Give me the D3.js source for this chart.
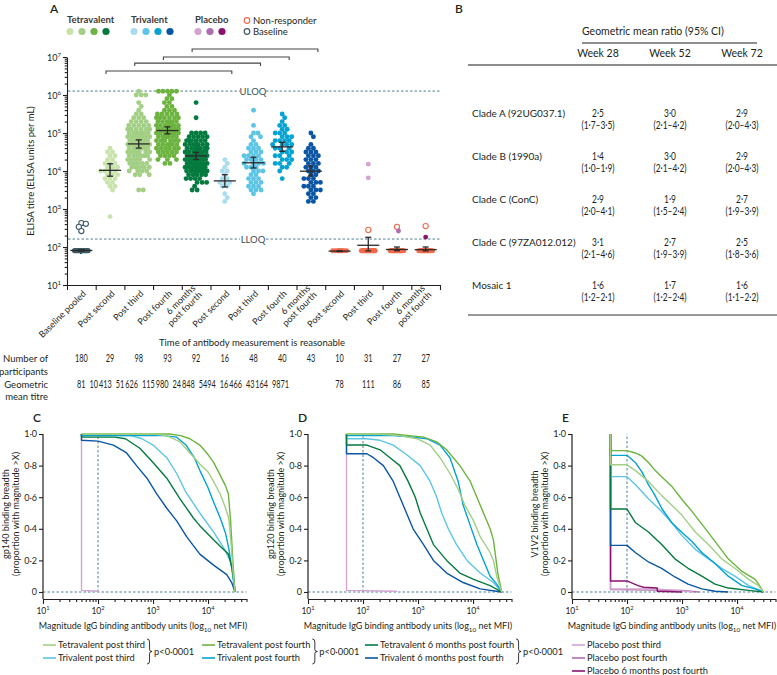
<!DOCTYPE html>
<html>
<head>
<meta charset="utf-8">
<script src="https://cdn.jsdelivr.net/npm/d3@7"></script>
<style>
html,body{margin:0;padding:0;background:#fff;}
svg{display:block;}
text{font-family:Lato,"Open Sans","DejaVu Sans",sans-serif;fill:#231f20;}
</style>
</head>
<body>
<svg id="chart" width="777" height="675" viewBox="0 0 777 675"></svg>
<script>
// ======================= DATA =======================
// Panel A categories
const categoryKeys = ["base","t2","t3","t4","t6","v2","v3","v4","v6","p2","p3","p4","p6"];
const categoryLabels = [["Baseline pooled"],["Post second"],["Post third"],["Post fourth"],["6 months","post fourth"],
  ["Post second"],["Post third"],["Post fourth"],["6 months","post fourth"],
  ["Post second"],["Post third"],["Post fourth"],["6 months","post fourth"]];
const participants = [180,29,98,93,92,16,48,40,43,10,31,27,27];
const geoMeanTitre = [81,10413,51626,115980,24848,5494,16466,43164,9871,78,111,86,85];
const ciLower = [78,7300,40000,95000,20000,3800,12000,33000,7400,76,79,80,79];
const ciUpper = [84,15500,66000,145000,31000,8000,23000,57000,13500,80,180,100,100];
// non-responders sitting at the assay floor
const floorCounts = [176,0,0,0,0,0,0,0,0,10,28,25,25];
const floorLog10 = 1.9;
// open circles (baseline / non-responder) log10 titre
const openCircleLog10 = [[2.61,2.53,2.63,2.42],[],[],[],[],[],[],[],[],[],[2.45],[2.53],[2.55]];
// responders: [log10 titre, number of participants]
const tetraPostSecond = [[4.6,1],[4.5,2],[4.4,2],[4.3,2],[4.2,3],[4.1,3],[4.0,4],[3.9,3],[3.8,3],[3.7,2],[3.6,2],[3.5,1],[2.8,1]];
const tetraPostThird = [[6.1,1],[6.0,3],[5.8,1],[5.7,1],[5.6,1],[5.5,2],[5.4,3],[5.3,4],[5.2,5],[5.1,6],[5.0,7],[4.9,7],[4.8,7],[4.7,7],[4.6,7],[4.5,6],[4.4,6],[4.3,5],[4.2,5],[4.1,5],[4.0,4],[3.9,3],[3.5,2]];
const tetraPostFourth = [[6.1,5],[6.0,1],[5.9,2],[5.8,2],[5.7,2],[5.6,3],[5.5,5],[5.4,6],[5.3,6],[5.2,7],[5.1,8],[5.0,8],[4.9,6],[4.8,6],[4.7,6],[4.6,6],[4.5,5],[4.4,4],[4.3,3],[4.2,2]];
const tetra6Months = [[5.8,1],[5.4,1],[5.0,4],[4.9,5],[4.8,6],[4.7,7],[4.6,7],[4.5,8],[4.4,8],[4.3,8],[4.2,8],[4.1,7],[4.0,7],[3.9,5],[3.8,4],[3.7,3],[3.6,1],[3.5,2]];
const triPostSecond = [[4.3,1],[4.2,1],[4.1,1],[4.0,2],[3.9,1],[3.8,2],[3.7,3],[3.6,2],[3.4,1],[3.3,1],[3.2,1]];
const triPostThird = [[5.6,1],[5.2,1],[5.0,2],[4.9,2],[4.8,1],[4.7,2],[4.6,3],[4.5,3],[4.4,4],[4.3,4],[4.2,4],[4.1,3],[4.0,3],[3.9,2],[3.8,3],[3.7,3],[3.6,3],[3.5,3],[3.4,1]];
const triPostFourth = [[5.5,1],[5.4,1],[5.3,1],[5.2,2],[5.1,2],[5.0,3],[4.9,3],[4.8,4],[4.7,4],[4.6,3],[4.5,3],[4.4,3],[4.3,3],[4.2,3],[4.1,2],[4.0,1],[3.8,1]];
const tri6Months = [[5.0,1],[4.9,1],[4.7,1],[4.6,2],[4.5,3],[4.4,3],[4.3,3],[4.2,3],[4.1,3],[4.0,3],[3.9,2],[3.8,3],[3.7,3],[3.6,3],[3.5,3],[3.4,2],[3.3,2],[3.2,2]];
const placeboPostThird = [[4.18,1],[3.82,1]];
const placeboPostFourth = [[2.42,1]];
const placebo6Months = [[2.26,1]];
const responderBins = [[],tetraPostSecond,tetraPostThird,tetraPostFourth,tetra6Months,
  triPostSecond,triPostThird,triPostFourth,tri6Months,[],placeboPostThird,placeboPostFourth,placebo6Months];
const uloq = 1.27e6, lloq = 162;
const bracketPairs = [[1,5],[2,6],[3,7],[4,8]];
const bracketLog10 = [6.63,6.84,7.0,7.21];

// Panel B table
const cladeRows = ["Clade A (92UG037.1)","Clade B (1990a)","Clade C (ConC)","Clade C (97ZA012.012)","Mosaic 1"];
const weekCols = ["Week 28","Week 52","Week 72"];
const gmrWeek28 = [2.5,1.4,2.9,3.1,1.6], lowWeek28 = [1.7,1.0,2.0,2.1,1.2], highWeek28 = [3.5,1.9,4.1,4.6,2.1];
const gmrWeek52 = [3.0,3.0,1.9,2.7,1.7], lowWeek52 = [2.1,2.1,1.5,1.9,1.2], highWeek52 = [4.2,4.2,2.4,3.9,2.4];
const gmrWeek72 = [2.9,2.9,2.7,2.5,1.6], lowWeek72 = [2.0,2.0,1.9,1.8,1.1], highWeek72 = [4.3,4.3,3.9,3.6,2.2];

// Panels C-E breadth curves: [log10 magnitude, proportion with magnitude > X]
const gp140TetraThird = [[1.7,1],[3.0,1],[3.25,0.99],[3.49,0.95],[3.67,0.88],[3.85,0.81],[4.0,0.76],[4.1,0.7],[4.22,0.62],[4.32,0.53],[4.38,0.46],[4.42,0.3],[4.46,0.1],[4.49,0]];
const gp140TetraFourth = [[1.7,1],[3.3,1],[3.5,0.99],[3.67,0.97],[3.85,0.93],[4.0,0.87],[4.1,0.82],[4.22,0.74],[4.32,0.67],[4.37,0.62],[4.41,0.45],[4.45,0.2],[4.49,0]];
const gp140TriThird = [[1.7,1],[1.7,0.99],[2.6,0.99],[2.8,0.97],[3.0,0.93],[3.25,0.85],[3.43,0.75],[3.6,0.63],[3.85,0.5],[4.1,0.38],[4.3,0.27],[4.4,0.2],[4.46,0.12],[4.49,0]];
const gp140TriFourth = [[1.7,1],[1.7,0.99],[3.2,0.99],[3.43,0.98],[3.6,0.93],[3.75,0.85],[3.85,0.77],[4.0,0.66],[4.1,0.57],[4.22,0.47],[4.32,0.37],[4.38,0.27],[4.43,0.15],[4.47,0.05],[4.49,0]];
const gp140Tetra6m = [[1.7,1],[1.7,0.98],[2.3,0.98],[2.5,0.97],[2.76,0.91],[3.0,0.82],[3.25,0.72],[3.49,0.59],[3.73,0.47],[3.85,0.42],[4.1,0.33],[4.22,0.29],[4.37,0.24],[4.44,0.15],[4.49,0]];
const gp140Tri6m = [[1.7,1],[1.7,0.96],[2.0,0.955],[2.28,0.93],[2.52,0.88],[2.7,0.8],[2.89,0.72],[3.07,0.62],[3.25,0.53],[3.43,0.45],[3.61,0.35],[3.85,0.24],[4.1,0.17],[4.34,0.11],[4.43,0.06],[4.49,0]];
const gp140Placebo = [[1.7,1],[1.7,0.01],[2.0,0.005],[2.0,0]];

const gp120TetraThird = [[1.7,1],[2.25,1],[2.67,0.99],[2.98,0.97],[3.22,0.93],[3.4,0.85],[3.58,0.75],[3.73,0.65],[3.85,0.55],[4.01,0.45],[4.13,0.35],[4.31,0.25],[4.37,0.2],[4.43,0.1],[4.52,0]];
const gp120TetraFourth = [[1.7,1],[2.55,1],[2.85,0.99],[3.1,0.98],[3.34,0.95],[3.52,0.9],[3.76,0.8],[3.95,0.7],[4.07,0.6],[4.19,0.5],[4.31,0.4],[4.37,0.33],[4.45,0.12],[4.52,0]];
const gp120TriThird = [[1.7,1],[1.7,0.97],[2.07,0.97],[2.31,0.96],[2.55,0.93],[2.79,0.87],[3.04,0.8],[3.22,0.7],[3.34,0.6],[3.43,0.5],[3.55,0.4],[3.7,0.3],[3.89,0.2],[4.13,0.12],[4.37,0.06],[4.52,0]];
const gp120TriFourth = [[1.7,1],[1.7,0.99],[2.55,0.99],[2.91,0.98],[3.16,0.97],[3.4,0.93],[3.58,0.85],[3.73,0.7],[3.82,0.55],[3.95,0.42],[4.07,0.3],[4.19,0.2],[4.31,0.1],[4.43,0.05],[4.52,0]];
const gp120Tetra6m = [[1.7,1],[1.7,0.93],[2.07,0.93],[2.31,0.9],[2.49,0.85],[2.67,0.8],[2.82,0.7],[2.95,0.6],[3.04,0.5],[3.16,0.4],[3.28,0.3],[3.52,0.2],[3.76,0.12],[4.01,0.08],[4.31,0.04],[4.52,0]];
const gp120Tri6m = [[1.7,1],[1.7,0.875],[2.07,0.875],[2.19,0.85],[2.37,0.8],[2.55,0.7],[2.67,0.6],[2.79,0.5],[2.91,0.4],[3.1,0.3],[3.28,0.2],[3.52,0.12],[3.82,0.06],[4.13,0.02],[4.52,0]];
const gp120Placebo = [[1.7,1],[1.7,0.01],[2.61,0.005],[2.61,0]];

const v1v2TetraThird = [[1.7,1],[1.7,0.805],[2.0,0.805],[2.15,0.77],[2.39,0.7],[2.63,0.61],[2.81,0.55],[2.99,0.49],[3.24,0.38],[3.48,0.3],[3.72,0.21],[3.96,0.15],[4.21,0.08],[4.39,0.04],[4.48,0]];
const v1v2TetraFourth = [[1.7,1],[1.7,0.895],[2.0,0.895],[2.15,0.88],[2.27,0.86],[2.39,0.82],[2.51,0.77],[2.63,0.73],[2.81,0.67],[2.99,0.59],[3.18,0.51],[3.36,0.43],[3.6,0.32],[3.84,0.21],[4.09,0.13],[4.33,0.08],[4.39,0.05],[4.48,0]];
const v1v2TriThird = [[1.7,1],[1.7,0.73],[2.0,0.73],[2.15,0.68],[2.39,0.59],[2.63,0.51],[2.81,0.44],[2.99,0.36],[3.24,0.27],[3.48,0.21],[3.72,0.15],[3.96,0.1],[4.21,0.04],[4.48,0]];
const v1v2TriFourth = [[1.7,1],[1.7,0.865],[2.0,0.865],[2.15,0.82],[2.27,0.76],[2.39,0.68],[2.51,0.61],[2.63,0.53],[2.81,0.44],[2.99,0.38],[3.18,0.32],[3.36,0.25],[3.6,0.18],[3.84,0.1],[4.09,0.04],[4.33,0.02],[4.48,0]];
const v1v2Tetra6m = [[1.7,1],[1.7,0.525],[2.0,0.525],[2.15,0.44],[2.39,0.38],[2.63,0.3],[2.87,0.21],[3.11,0.15],[3.36,0.1],[3.6,0.05],[3.84,0.025],[4.21,0.01],[4.48,0]];
const v1v2Tri6m = [[1.7,1],[1.7,0.295],[2.0,0.295],[2.15,0.25],[2.39,0.19],[2.63,0.15],[2.87,0.095],[3.11,0.05],[3.36,0.02],[3.6,0.005],[3.84,0]];
const v1v2PlaceboThird = [[1.7,1],[1.7,0.02],[2.5,0.02],[2.9,0.01],[3.2,0]];
const v1v2PlaceboFourth = [[1.7,1],[1.7,0.015],[3.0,0.01],[3.3,0]];
const v1v2Placebo6m = [[1.7,1],[1.7,0.07],[2.0,0.07],[2.2,0.04],[2.3,0.03],[2.55,0.025],[2.55,0.005],[3.0,0]];

// legend entries for C-E
const legendGroups = [
  ["Tetravalent post third","Trivalent post third"],
  ["Tetravalent post fourth","Trivalent post fourth"],
  ["Tetravalent 6 months post fourth","Trivalent 6 months post fourth"]];
const placeboLegend = ["Placebo post third","Placebo post fourth","Placebo 6 months post fourth"];
const pValueText = "p<0·0001";

// ======================= STYLE =======================
const ink = "#231f20";
const refColor = "#4f7e93";
const tetraColors = ["#c8e3ab","#a3cf85","#6cb33f","#047a3f"];
const triColors = ["#a9dcef","#5cc5e5","#02a3d3","#0a56a5"];
const placeboColors = ["#d3a4d1","#b06cb1","#8c1270"];
const nonResponderColor = "#f26a4b";
const baselineColor = "#3e5b68";
const catColor = [baselineColor, ...tetraColors, ...triColors, placeboColors[0], placeboColors[0], placeboColors[1], placeboColors[2]];

const svg = d3.select("#chart");
function txt(parent, x, y, s, o = {}) {
  return parent.append("text").attr("x", x).attr("y", y)
    .attr("font-size", o.size || 9.5).attr("text-anchor", o.anchor || "start")
    .attr("font-weight", o.weight || 400).style("fill", o.fill || ink).text(s);
}
function powLabel(t, k) {
  t.append("tspan").text("10");
  t.append("tspan").attr("dy", -4).attr("font-size", "0.68em").text(k);
}
const dot = s => s.replace(/\./g, "·");
// narrow (condensed) text, used for the numeric cells
function narrowText(parent, x, y, s, size, scaleX, anchor) {
  const g = parent.append("g").attr("transform", `translate(${x},${y}) scale(${scaleX},1)`);
  const t = txt(g, 0, 0, s, {size, anchor: anchor || "middle"});
  return {g, w: t.node().getComputedTextLength() * scaleX};
}

// ======================= PANEL A =======================
const xA = d3.scaleBand().domain(categoryKeys).range([67, 440]);
const cxA = k => xA(k) + xA.bandwidth() / 2;
const yA = d3.scaleLog().domain([10, 1e7]).range([285, 57]);

txt(svg, 50, 13, "A", {size: 12, weight: 600});

// legend
const lg = svg.append("g");
[["Tetravalent", 67, tetraColors], ["Trivalent", 131, triColors], ["Placebo", 195, placeboColors]].forEach(([name, x, cols]) => {
  txt(lg, x, 23, name, {size: 9.5, weight: 700, fill: "#3a3a3a"});
  cols.forEach((c, i) => lg.append("circle").attr("cx", x + 3 + i * 12).attr("cy", 31.5).attr("r", 3.6).attr("fill", c));
});
lg.append("circle").attr("cx", 247).attr("cy", 20.5).attr("r", 2.8).attr("fill", "#fff").attr("stroke", nonResponderColor).attr("stroke-width", 1.2);
txt(lg, 253, 24, "Non-responder");
lg.append("circle").attr("cx", 247).attr("cy", 31.5).attr("r", 2.8).attr("fill", "#fff").attr("stroke", baselineColor).attr("stroke-width", 1.2);
txt(lg, 253, 35, "Baseline");

// brackets
bracketPairs.forEach(([a, b], i) => {
  const y = yA(10 ** bracketLog10[i]);
  const x1 = cxA(categoryKeys[a]) - 4, x2 = cxA(categoryKeys[b]) + 7;
  svg.append("path").attr("d", `M${x1},${y + 3}V${y}H${x2}V${y + 3}`)
    .attr("fill", "none").attr("stroke", "#444").attr("stroke-width", 1.1);
});

// y axis
const majorA = d3.range(1, 8).map(k => 10 ** k);
const minorA = [];
for (let k = 1; k < 7; k++) for (let m = 2; m <= 9; m++) minorA.push(m * 10 ** k);
const gAy = svg.append("g").attr("transform", "translate(67,0)");
gAy.call(d3.axisLeft(yA).tickValues(majorA).tickSize(4).tickSizeOuter(0).tickFormat(() => ""));
gAy.append("g").call(d3.axisLeft(yA).tickValues(minorA).tickSize(2.3).tickSizeOuter(0).tickFormat(() => "")).select(".domain").remove();
gAy.selectAll("path,line").attr("stroke", ink).attr("stroke-width", 1.1);
majorA.forEach((v, i) => powLabel(txt(svg, 61, yA(v) + 3.5, "", {size: 9, anchor: "end"}), i + 1));
txt(svg, 0, 0, "ELISA titre (ELISA units per mL)", {size: 9.5, anchor: "middle"})
  .attr("transform", "translate(34,171) rotate(-90)");

// x axis (ticks at band boundaries)
const xTick = d3.scaleLinear().domain([0, categoryKeys.length]).range(xA.range());
const gAx = svg.append("g").attr("transform", "translate(0,285)")
  .call(d3.axisBottom(xTick).tickValues(d3.range(categoryKeys.length + 1)).tickSize(5).tickSizeOuter(0).tickFormat(() => ""));
gAx.selectAll("path,line").attr("stroke", ink).attr("stroke-width", 1.1);
categoryKeys.forEach((k, i) => {
  const g = svg.append("g").attr("transform", `translate(${cxA(k) + 3},${292}) rotate(-45)`);
  const t = g.append("text").attr("text-anchor", "end").attr("font-size", 9).style("fill", ink);
  const lines = categoryLabels[i];
  lines.forEach((s, j) => t.append("tspan").attr("x", 0).attr("dy", j === 0 ? (lines.length > 1 ? "-0.5em" : "0.35em") : "1.05em").text(s));
});

// reference lines
[[uloq, "ULOQ"], [lloq, "LLOQ"]].forEach(([v, s]) => {
  const y = yA(v);
  svg.append("line").attr("x1", 68).attr("x2", 440).attr("y1", y).attr("y2", y)
    .attr("stroke", refColor).attr("stroke-width", 1).attr("stroke-dasharray", "2.5,2");
  svg.append("rect").attr("x", 240).attr("y", y - 5).attr("width", 26).attr("height", 10).attr("fill", "#fff");
  txt(svg, 253, y + 3.5, s, {size: 9.5, anchor: "middle", fill: "#3c4f58"});
});

// swarm layout
function swarm(items, cx, r, maxHalf) {
  items.forEach(d => d.y = yA(10 ** d.v));
  items.sort((a, b) => a.y - b.y);
  const minD = 2 * r * 0.88;
  const cands = [0];
  for (let s = 0.5; s <= maxHalf + 1e-9; s += 0.5) cands.push(s, -s);
  const placed = [];
  for (const p of items) {
    let best = 0, bestScore = -1;
    for (const dx of cands) {
      let md = Infinity;
      for (let j = placed.length - 1; j >= 0; j--) {
        const q = placed[j];
        const dy = p.y - q.y;
        if (dy >= minD) break;
        const d = Math.hypot(q.dx - dx, dy);
        if (d < md) md = d;
      }
      if (md >= minD) { best = dx; break; }
      if (md > bestScore + 0.01) { bestScore = md; best = dx; }
    }
    p.dx = best; placed.push(p);
  }
  items.forEach(d => d.x = cx + d.dx);
  return items;
}

const R = 2.45;
const dotsG = svg.append("g");
categoryKeys.forEach((k, i) => {
  const cx = cxA(k);
  const floorItems = d3.range(floorCounts[i]).map(() => ({v: floorLog10, kind: "floor"}));
  swarm(floorItems, cx, R, 7).forEach(d => dotsG.append("circle").attr("cx", d.x).attr("cy", d.y).attr("r", R)
    .attr("fill", i === 0 ? baselineColor : nonResponderColor));
  const items = [];
  responderBins[i].forEach(([v, n]) => { for (let j = 0; j < n; j++) items.push({v, kind: "resp"}); });
  openCircleLog10[i].forEach(v => items.push({v, kind: "open"}));
  swarm(items, cx, R, 11).forEach(d => {
    if (d.kind === "open") {
      dotsG.append("circle").attr("cx", d.x).attr("cy", d.y).attr("r", 2.6).attr("fill", "#fff")
        .attr("stroke", i === 0 ? baselineColor : nonResponderColor).attr("stroke-width", 1.1);
    } else {
      dotsG.append("circle").attr("cx", d.x).attr("cy", d.y).attr("r", R).attr("fill", catColor[i]);
    }
  });
  // geometric mean and 95% CI
  const ym = yA(geoMeanTitre[i]), y1 = yA(ciLower[i]), y2 = yA(ciUpper[i]);
  const mg = svg.append("g").attr("stroke", "#2b2b2b").attr("stroke-width", 1.3);
  mg.append("line").attr("x1", cx - 11).attr("x2", cx + 11).attr("y1", ym).attr("y2", ym);
  mg.append("line").attr("x1", cx).attr("x2", cx).attr("y1", y1).attr("y2", y2);
  mg.append("line").attr("x1", cx - 3).attr("x2", cx + 3).attr("y1", y1).attr("y2", y1);
  mg.append("line").attr("x1", cx - 3).attr("x2", cx + 3).attr("y1", y2).attr("y2", y2);
});

txt(svg, 252, 346, "Time of antibody measurement is reasonable", {size: 9.5, anchor: "middle"});

// table under panel A
const condense = 0.7;
txt(svg, 48, 362, "Number of", {size: 9.5, anchor: "end"});
txt(svg, 48, 375, "participants", {size: 9.5, anchor: "end"});
txt(svg, 48, 388, "Geometric", {size: 9.5, anchor: "end"});
txt(svg, 48, 400, "mean titre", {size: 9.5, anchor: "end"});
categoryKeys.forEach((k, i) => narrowText(svg, cxA(k), 362, String(participants[i]), 10.5, condense));
const fmtTitre = n => n >= 10000 ? d3.format(",")(n).replace(/,/g, "\u2009") : String(n);
let prevX = null, prevW = 0;
categoryKeys.forEach((k, i) => {
  const nn = narrowText(svg, 0, 388, fmtTitre(geoMeanTitre[i]), 10.5, condense);
  let x = cxA(k);
  if (k[0] !== "p" && prevX !== null) x = prevX + prevW / 2 + 4 + nn.w / 2;
  nn.g.attr("transform", `translate(${x},388) scale(${condense},1)`);
  prevX = x; prevW = nn.w;
});

// ======================= PANEL B =======================
txt(svg, 455, 13, "B", {size: 12, weight: 600});
const colX = d3.scalePoint().domain(weekCols).range([598, 742]);
txt(svg, 582, 35, "Geometric mean ratio (95% CI)", {size: 10.5});
svg.append("line").attr("x1", 582).attr("x2", 757).attr("y1", 43).attr("y2", 43).attr("stroke", ink).attr("stroke-width", 1);
weekCols.forEach(w => txt(svg, colX(w), 57, w, {size: 10.5, anchor: "middle"}));
svg.append("line").attr("x1", 468).attr("x2", 777).attr("y1", 65).attr("y2", 65).attr("stroke", "#8c8c8c").attr("stroke-width", 2);
svg.append("line").attr("x1", 468).attr("x2", 777).attr("y1", 315).attr("y2", 315).attr("stroke", "#333").attr("stroke-width", 1.2);
const rowY = d3.scalePoint().domain(cladeRows).range([113, 285]);
const f1 = v => dot(d3.format(".1f")(v));
const weekData = [[gmrWeek28, lowWeek28, highWeek28], [gmrWeek52, lowWeek52, highWeek52], [gmrWeek72, lowWeek72, highWeek72]];
cladeRows.forEach((c, i) => {
  const y = rowY(c);
  txt(svg, 472, y + 3.5, c, {size: 10});
  weekCols.forEach((w, j) => {
    const [g, lo, hi] = weekData[j];
    narrowText(svg, colX(w), y + 3.5, f1(g[i]), 10.5, 0.8);
    narrowText(svg, colX(w), y + 16, `(${f1(lo[i])}–${f1(hi[i])})`, 10.5, 0.8);
  });
});

// ======================= PANELS C-E =======================
const curveColors = {
  tetraThird: tetraColors[1], tetraFourth: tetraColors[2], tetra6m: tetraColors[3],
  triThird: triColors[1], triFourth: triColors[2], tri6m: triColors[3],
  placeboThird: placeboColors[0], placeboFourth: placeboColors[1], placebo6m: placeboColors[2]
};
const breadthPanels = [
  {letter: "C", x0: 43, ylab: "gp140 binding breadth", curves: [
    ["placeboThird", gp140Placebo], ["tri6m", gp140Tri6m], ["triThird", gp140TriThird], ["triFourth", gp140TriFourth],
    ["tetraFourth", gp140TetraFourth], ["tetra6m", gp140Tetra6m], ["tetraThird", gp140TetraThird]]},
  {letter: "D", x0: 308, ylab: "gp120 binding breadth", curves: [
    ["placeboThird", gp120Placebo], ["tri6m", gp120Tri6m], ["triThird", gp120TriThird], ["triFourth", gp120TriFourth],
    ["tetraFourth", gp120TetraFourth], ["tetra6m", gp120Tetra6m], ["tetraThird", gp120TetraThird]]},
  {letter: "E", x0: 572, ylab: "V1V2 binding breadth", curves: [
    ["placeboFourth", v1v2PlaceboFourth], ["placeboThird", v1v2PlaceboThird], ["placebo6m", v1v2Placebo6m],
    ["tri6m", v1v2Tri6m], ["triThird", v1v2TriThird], ["triFourth", v1v2TriFourth],
    ["tetraFourth", v1v2TetraFourth], ["tetra6m", v1v2Tetra6m], ["tetraThird", v1v2TetraThird]]}
];
const propFmt = d => d === 0 ? "0" : dot(d3.format(".1f")(d));
breadthPanels.forEach(p => {
  const xS = d3.scaleLog().domain([10, 50000]).range([p.x0, p.x0 + 203.5]);
  const yS = d3.scaleLinear().domain([0, 1]).range([592, 434]);
  const g = svg.append("g");
  txt(g, p.x0 - 10, 422, p.letter, {size: 12, weight: 600});
  // reference dashed lines
  g.append("line").attr("x1", p.x0).attr("x2", xS(50000)).attr("y1", yS(0)).attr("y2", yS(0))
    .attr("stroke", refColor).attr("stroke-dasharray", "2.5,2").attr("stroke-width", 1);
  g.append("line").attr("x1", xS(100)).attr("x2", xS(100)).attr("y1", yS(0)).attr("y2", yS(1))
    .attr("stroke", refColor).attr("stroke-dasharray", "2.5,2").attr("stroke-width", 1);
  // curves
  const line = d3.line().x(d => xS(10 ** d[0])).y(d => yS(d[1]));
  p.curves.forEach(([key, data]) => {
    g.append("path").attr("d", line(data)).attr("fill", "none").attr("stroke", curveColors[key])
      .attr("stroke-width", 1.4).attr("stroke-linejoin", "round");
  });
  // y axis
  const gy = g.append("g").attr("transform", `translate(${p.x0},0)`)
    .call(d3.axisLeft(yS).tickValues([0, 0.2, 0.4, 0.6, 0.8, 1]).tickSize(4).tickSizeOuter(0).tickFormat(propFmt));
  gy.select(".domain").remove();
  gy.selectAll("line").attr("stroke", ink).attr("stroke-width", 1.1);
  gy.selectAll("text").attr("font-size", 9).style("fill", ink).attr("x", -6);
  g.append("line").attr("x1", p.x0).attr("x2", p.x0).attr("y1", yS(1)).attr("y2", 599).attr("stroke", ink).attr("stroke-width", 1.2);
  // x axis
  const majors = [10, 100, 1000, 10000];
  const minors = [];
  for (let k = 1; k <= 4; k++) for (let m = 2; m <= 9; m++) { const v = m * 10 ** k; if (v <= 50000) minors.push(v); }
  const gx = g.append("g").attr("transform", "translate(0,599)")
    .call(d3.axisBottom(xS).tickValues(majors).tickSize(5).tickSizeOuter(0).tickFormat(() => ""));
  gx.append("g").call(d3.axisBottom(xS).tickValues(minors).tickSize(3).tickSizeOuter(0).tickFormat(() => "")).select(".domain").remove();
  gx.selectAll("path,line").attr("stroke", ink).attr("stroke-width", 1.1);
  majors.forEach((v, i) => powLabel(txt(g, xS(v), 614, "", {size: 8.5, anchor: "middle"}), i + 1));
  const xt = txt(g, p.x0 + 100, 629, "", {size: 9, anchor: "middle"});
  xt.append("tspan").text("Magnitude IgG binding antibody units (log");
  xt.append("tspan").attr("dy", 2.5).attr("font-size", "0.7em").text("10");
  xt.append("tspan").attr("dy", -2.5).text(" net MFI)");
  // y label
  const yl = g.append("text").attr("transform", `translate(${p.x0 - 33},514) rotate(-90)`)
    .attr("text-anchor", "middle").attr("font-size", 9).style("fill", ink);
  yl.append("tspan").attr("x", 0).attr("dy", "-0.15em").text(p.ylab);
  yl.append("tspan").attr("x", 0).attr("dy", "1.1em").text("(proportion with magnitude >X)");
});

// bottom legend
const legKeys = [["tetraThird", "triThird"], ["tetraFourth", "triFourth"], ["tetra6m", "tri6m"]];
const legX = [43, 202, 365];
const rowYs = [645, 658, 671];
legendGroups.forEach((grp, gi) => {
  const x = legX[gi];
  let maxW = 0;
  grp.forEach((s, j) => {
    svg.append("line").attr("x1", x).attr("x2", x + 13).attr("y1", rowYs[j]).attr("y2", rowYs[j])
      .attr("stroke", curveColors[legKeys[gi][j]]).attr("stroke-width", 1.6);
    const t = txt(svg, x + 15, rowYs[j] + 3, s, {size: 9.3});
    maxW = Math.max(maxW, t.node().getComputedTextLength());
  });
  const bx = x + 15 + maxW + 2, y0 = rowYs[0] - 6, y1 = rowYs[1] + 6, ym = (y0 + y1) / 2, w = 5;
  svg.append("path").attr("d", `M${bx},${y0}Q${bx + w / 2},${y0} ${bx + w / 2},${y0 + 3}L${bx + w / 2},${ym - 2}Q${bx + w / 2},${ym} ${bx + w},${ym}Q${bx + w / 2},${ym} ${bx + w / 2},${ym + 2}L${bx + w / 2},${y1 - 3}Q${bx + w / 2},${y1} ${bx},${y1}`)
    .attr("fill", "none").attr("stroke", ink).attr("stroke-width", 0.9);
  txt(svg, bx + 7, ym + 3, pValueText, {size: 9.3});
});
const plKeys = ["placeboThird", "placeboFourth", "placebo6m"];
placeboLegend.forEach((s, j) => {
  svg.append("line").attr("x1", 572).attr("x2", 585).attr("y1", rowYs[j]).attr("y2", rowYs[j])
    .attr("stroke", curveColors[plKeys[j]]).attr("stroke-width", 1.6);
  txt(svg, 587, rowYs[j] + 3, s, {size: 9.3});
});
</script>
</body>
</html>
